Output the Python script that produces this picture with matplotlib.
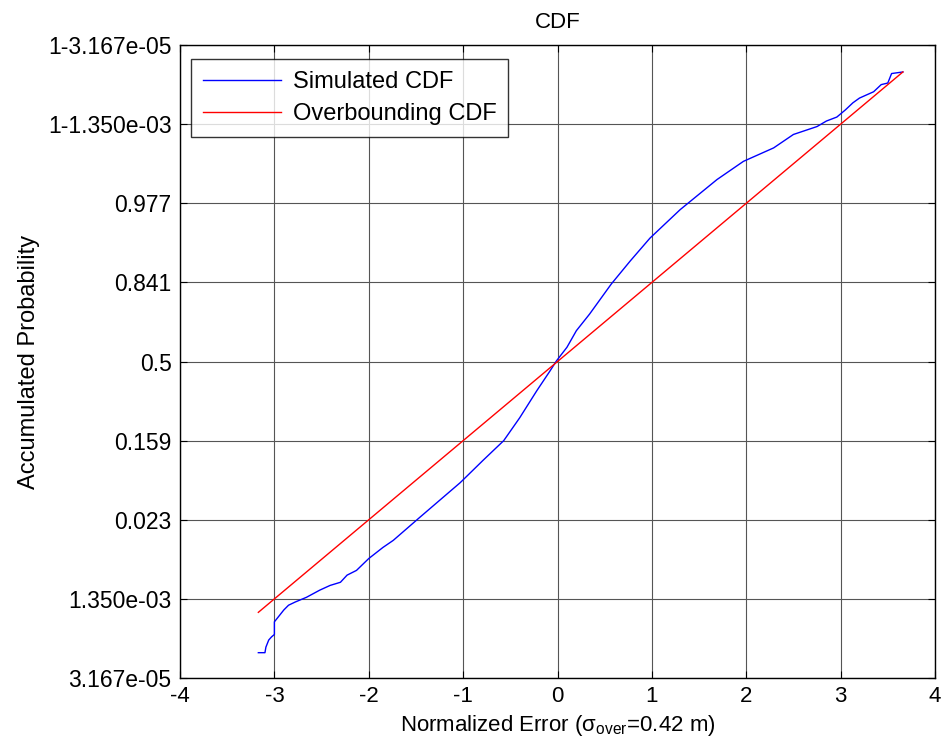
import matplotlib
matplotlib.use("Agg")
import matplotlib.pyplot as plt

# Data (x: normalized error, y: normal quantile of accumulated probability)
sim_x = [-3.17, -3.10, -3.09, -3.06, -3.03, -3.00, -3.00, -2.96, -2.90, -2.85, -2.78,
         -2.66, -2.52, -2.41, -2.30, -2.23, -2.13, -2.00, -1.85, -1.74, -1.46, -1.03,
         -0.79, -0.57, -0.40, -0.22, -0.08, -0.01, 0.10, 0.20, 0.34, 0.57, 0.77, 0.98,
         1.30, 1.69, 1.97, 2.29, 2.50, 2.75, 2.85, 2.96, 3.05, 3.13, 3.20, 3.35, 3.43,
         3.50, 3.54, 3.66]
sim_y = [-3.68, -3.68, -3.61, -3.52, -3.48, -3.45, -3.29, -3.23, -3.14, -3.08, -3.04,
         -2.98, -2.89, -2.83, -2.79, -2.70, -2.64, -2.49, -2.35, -2.26, -1.97, -1.53,
         -1.25, -1.00, -0.71, -0.37, -0.12, 0.01, 0.18, 0.39, 0.60, 0.98, 1.27, 1.56,
         1.92, 2.30, 2.53, 2.70, 2.87, 2.97, 3.04, 3.09, 3.18, 3.27, 3.33, 3.41, 3.50,
         3.52, 3.64, 3.66]
over_x = [-3.17, 3.66]
over_y = [-3.17, 3.66]

x_ticks = [-4, -3, -2, -1, 0, 1, 2, 3, 4]
y_ticks = [-4, -3, -2, -1, 0, 1, 2, 3, 4]
y_ticklabels = ["3.167e-05", "1.350e-03", "0.023", "0.159", "0.5", "0.841",
                "0.977", "1-1.350e-03", "1-3.167e-05"]

reg = ["Liberation Sans", "DejaVu Sans"]
plt.rcParams['font.family'] = reg
plt.rcParams['mathtext.default'] = 'regular'

fig = plt.figure(figsize=(9.43, 7.51), dpi=100)
ax = fig.add_axes([0.1909, 0.0972, 0.8006, 0.8428])

ax.plot(sim_x, sim_y, color='#0000ff', lw=1.0, label='Simulated CDF')
ax.plot(over_x, over_y, color='#ff0000', lw=1.0, label='Overbounding CDF')

ax.set_xlim(-4, 4)
ax.set_ylim(-4, 4)
ax.set_xticks(x_ticks)
ax.set_xticklabels([str(v) for v in x_ticks], fontsize=16)
ax.set_yticks(y_ticks)
ax.set_yticklabels(y_ticklabels, fontsize=16.5)
ax.tick_params(direction='in', length=5, width=0.8, top=True, right=True, pad=6)
ax.grid(True, color='#555555', lw=0.8)
for s in ax.spines.values():
    s.set_color('black')
    s.set_linewidth(1.0)

ax.set_title('CDF', fontsize=16, pad=12)
ax.set_xlabel('Normalized Error (σ$_{over}$=0.42 m)', fontsize=16, labelpad=4)
ax.set_ylabel('Accumulated Probability', fontsize=17, labelpad=6)

leg = ax.legend(loc='upper left', fontsize=17, frameon=True, fancybox=False,
                edgecolor='black', handlelength=3.3, handletextpad=0.5, borderpad=0.5,
                bbox_to_anchor=(0.015, 0.978), labelspacing=0.45, borderaxespad=0)
leg.get_frame().set_linewidth(1.0)

fig.savefig('out.png', dpi=100)
